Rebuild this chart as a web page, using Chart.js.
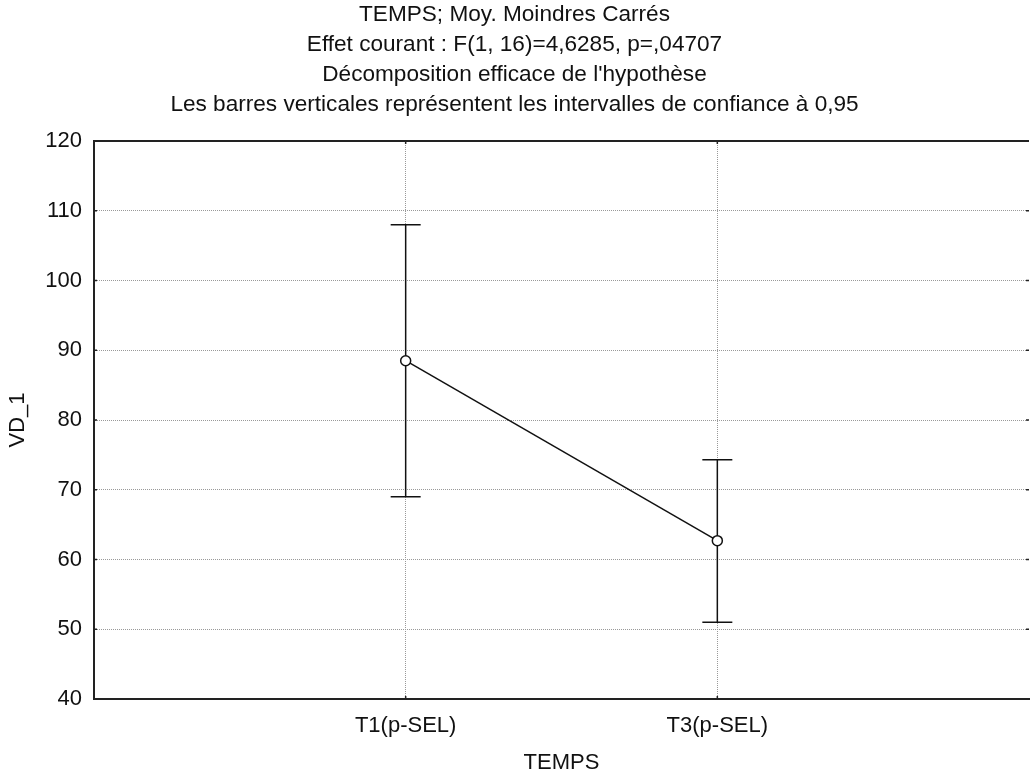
<!DOCTYPE html>
<html>
<head>
<meta charset="utf-8">
<script src="https://cdn.jsdelivr.net/npm/chart.js@4/dist/chart.umd.min.js"></script>
<style>
  html, body { margin: 0; padding: 0; background: #fff; }
  #wrap { width: 1030px; height: 774px; }
</style>
</head>
<body>
<div id="wrap"><canvas id="chart"></canvas></div>
<script>
const titleLines = [
  'TEMPS; Moy. Moindres Carrés',
  'Effet courant : F(1, 16)=4,6285, p=,04707',
  "Décomposition efficace de l'hypothèse",
  'Les barres verticales représentent les intervalles de confiance à 0,95'
];
const categories = ['T1(p-SEL)', 'T3(p-SEL)'];
const means = [88.5, 62.7];
const lowerCI = [69.0, 51.0];
const upperCI = [108.0, 74.3];
const yTicks = [40, 50, 60, 70, 80, 90, 100, 110, 120];

const FONT = '"Liberation Sans", Arial, sans-serif';
Chart.defaults.font.family = FONT;
Chart.defaults.color = '#111';

// error bars + frame bits, drawn with the chart's own scales
const errorBars = {
  id: 'errorBars',
  beforeDatasetsDraw(chart) {
    const { ctx, scales: { x, y } } = chart;
    ctx.save();
    ctx.strokeStyle = '#111';
    ctx.lineWidth = 1.5;
    categories.forEach((c, i) => {
      const px = x.getPixelForValue(i + 1);
      const top = y.getPixelForValue(upperCI[i]);
      const bot = y.getPixelForValue(lowerCI[i]);
      ctx.beginPath();
      ctx.moveTo(px, top); ctx.lineTo(px, bot);
      ctx.moveTo(px - 15, top); ctx.lineTo(px + 15, top);
      ctx.moveTo(px - 15, bot); ctx.lineTo(px + 15, bot);
      ctx.stroke();
    });
    ctx.restore();
  },
  afterDraw(chart) {
    const { ctx, chartArea: a, scales: { x, y } } = chart;
    ctx.save();
    ctx.strokeStyle = '#222';
    ctx.lineWidth = 2;
    ctx.beginPath();
    ctx.moveTo(a.left - 1, a.top); ctx.lineTo(a.right, a.top);
    ctx.stroke();
    // small inward ticks
    ctx.lineWidth = 1.5;
    ctx.beginPath();
    yTicks.slice(1, -1).forEach(v => {
      const py = y.getPixelForValue(v);
      ctx.moveTo(a.left, py); ctx.lineTo(a.left + 3, py);
      ctx.moveTo(a.right - 3, py); ctx.lineTo(a.right, py);
    });
    categories.forEach((c, i) => {
      const px = x.getPixelForValue(i + 1);
      ctx.moveTo(px, a.bottom); ctx.lineTo(px, a.bottom - 3);
      ctx.moveTo(px, a.top); ctx.lineTo(px, a.top + 3);
    });
    ctx.stroke();
    ctx.restore();
  }
};

new Chart(document.getElementById('chart'), {
  type: 'line',
  data: {
    datasets: [{
      data: means.map((m, i) => ({ x: i + 1, y: m })),
      borderColor: '#111',
      borderWidth: 1.5,
      pointRadius: 5,
      pointBorderWidth: 1.5,
      pointBackgroundColor: '#fff',
      pointBorderColor: '#111',
      tension: 0,
      fill: false
    }]
  },
  options: {
    responsive: true,
    maintainAspectRatio: false,
    animation: false,
    layout: { autoPadding: false, padding: { left: 0, right: 1, top: 0, bottom: -2.5 } },
    plugins: {
      legend: { display: false },
      tooltip: { enabled: false },
      title: {
        display: true,
        text: titleLines,
        color: '#111',
        font: { size: 22.6, weight: 'normal', lineHeight: 30 / 22.6 },
        padding: { top: 0, bottom: 21 }
      }
    },
    scales: {
      x: {
        type: 'linear',
        min: 0,
        max: categories.length + 1,
        afterBuildTicks: axis => { axis.ticks = categories.map((c, i) => ({ value: i + 1 })); },
        ticks: {
          font: { size: 22 },
          padding: 14,
          autoSkip: false,
          maxRotation: 0,
          callback: v => categories[v - 1]
        },
        grid: { color: '#999', drawTicks: false },
        border: { display: true, color: '#222', width: 2, dash: [1, 1] },
        title: { display: true, text: 'TEMPS', font: { size: 22 }, padding: { top: -3.3, bottom: 0 } }
      },
      y: {
        min: 40,
        max: 120,
        afterBuildTicks: axis => { axis.ticks = yTicks.map(v => ({ value: v })); },
        ticks: { font: { size: 22 }, padding: 12 },
        grid: {
          drawTicks: false,
          color: ctx => (ctx.tick && (ctx.tick.value === 40 || ctx.tick.value === 120)) ? 'rgba(0,0,0,0)' : '#999'
        },
        border: { display: true, color: '#222', width: 2, dash: [1, 1] },
        title: { display: true, text: 'VD_1', font: { size: 22 }, padding: { top: 4.8, bottom: 2.1 } }
      }
    }
  },
  plugins: [errorBars]
});
</script>
</body>
</html>
